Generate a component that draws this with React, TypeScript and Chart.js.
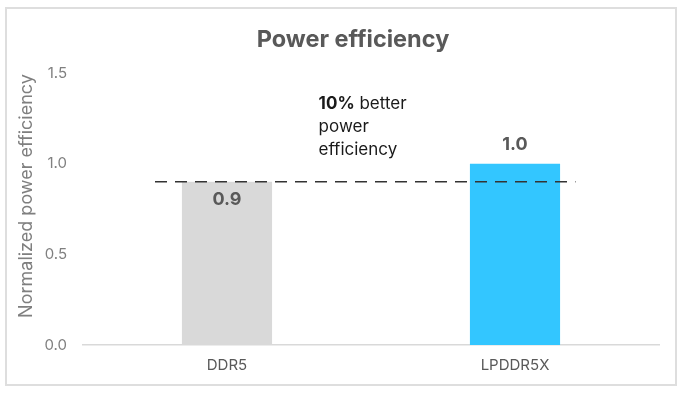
import React, { useEffect, useRef } from "react";
import { Chart, registerables } from "chart.js";

Chart.register(...registerables);

const categories = ["DDR5", "LPDDR5X"];
const values = [0.9, 1.0];
const barColors = ["#d9d9d9", "#33c6ff"];
const yTicks = [0, 0.5, 1.0, 1.5];
const referenceValue = 0.9;
const annotationBold = "10%";
const annotationLines = [" better", "power", "efficiency"];
const chartTitle = "Power efficiency";
const yAxisTitle = "Normalized power efficiency";

const FONT = "Inter, 'Noto Sans', sans-serif";

const overlay = {
  id: "overlay",
  afterDatasetsDraw(chart: any) {
    const { ctx, scales } = chart;
    const xs = scales.x;
    const ys = scales.y;
    ctx.save();
    // title
    ctx.fillStyle = "#595959";
    ctx.font = `bold 23.5px ${FONT}`;
    ctx.textAlign = "center";
    ctx.textBaseline = "alphabetic";
    ctx.fillText(chartTitle, 353, 47);

    // y axis title
    ctx.save();
    ctx.translate(27, (ys.top + ys.bottom) / 2 - 13);
    ctx.rotate(-Math.PI / 2);
    ctx.font = `18px ${FONT}`;
    ctx.fillStyle = "#7f7f7f";
    ctx.textBaseline = "middle";
    ctx.fillText(yAxisTitle, 0, 0);
    ctx.restore();

    ctx.textBaseline = "middle";
    // dashed reference line
    const yRef = ys.getPixelForValue(referenceValue);
    ctx.strokeStyle = "#333333";
    ctx.lineWidth = 1.5;
    ctx.setLineDash([12, 8]);
    ctx.beginPath();
    ctx.moveTo(xs.getPixelForValue(-0.25), yRef);
    ctx.lineTo(xs.getPixelForValue(1.21), yRef);
    ctx.stroke();
    ctx.setLineDash([]);

    // value labels
    const meta = chart.getDatasetMeta(0);
    ctx.font = `bold 18px ${FONT}`;
    ctx.fillStyle = "#595959";
    meta.data.forEach((bar: any, i: number) => {
      const v = values[i];
      const y = i === 0 ? bar.y + 18 : bar.y - 19;
      ctx.fillText(v.toFixed(1), bar.x, y);
    });

    // annotation
    const ax = xs.getPixelForValue(0.318);
    const ay = ys.getPixelForValue(1.33);
    ctx.textAlign = "left";
    ctx.fillStyle = "#1a1a1a";
    ctx.font = `bold 17px ${FONT}`;
    ctx.fillText(annotationBold, ax, ay);
    const w = ctx.measureText(annotationBold).width;
    ctx.font = `17px ${FONT}`;
    ctx.fillText(annotationLines[0], ax + w, ay);
    ctx.fillText(annotationLines[1], ax, ay + 23);
    ctx.fillText(annotationLines[2], ax, ay + 46);
    ctx.restore();
  },
};

export default function App() {
  const ref = useRef<HTMLCanvasElement>(null);
  useEffect(() => {
    if (!ref.current) return;
    const chart = new Chart(ref.current, {
      type: "bar",
      data: {
        labels: categories,
        datasets: [
          {
            data: values,
            backgroundColor: barColors,
            barPercentage: 0.313,
            categoryPercentage: 1,
          },
        ],
      },
      options: {
        animation: false,
        responsive: false,
        maintainAspectRatio: false,
        layout: { padding: { left: 0, right: 24, top: 73, bottom: 0 } },
        plugins: { legend: { display: false }, tooltip: { enabled: false }, title: { display: false } },
        scales: {
          x: {
            grid: { display: false, drawTicks: false },
            border: { display: true, color: "#d9d9d9", width: 1.5 },
            ticks: { color: "#595959", font: { family: FONT, size: 15 }, padding: 11 },
            afterFit: (s: any) => { s.height = 49; },
          },
          y: {
            min: 0,
            max: 1.5,
            afterBuildTicks: (s: any) => { s.ticks = yTicks.map((v) => ({ value: v })); },
            grid: { display: false, drawTicks: false },
            border: { display: false },
            ticks: {
              color: "#808080",
              font: { family: FONT, size: 15 },
              padding: 16,
              callback: (v: any) => Number(v).toFixed(1),
            },
            afterFit: (s: any) => { s.width = 83; },
          },
        },
      },
      plugins: [overlay],
    });
    return () => chart.destroy();
  }, []);
  return (
    <div style={{ position: "absolute", left: 0, top: 0, width: 683, height: 394, background: "#fff" }}>
      <div style={{ position: "absolute", left: 5, top: 7, width: 668, height: 375, border: "2px solid #dedede" }} />
      <canvas ref={ref} width={683} height={394} style={{ position: "absolute", left: 0, top: 0, width: 683, height: 394 }} />
    </div>
  );
}
